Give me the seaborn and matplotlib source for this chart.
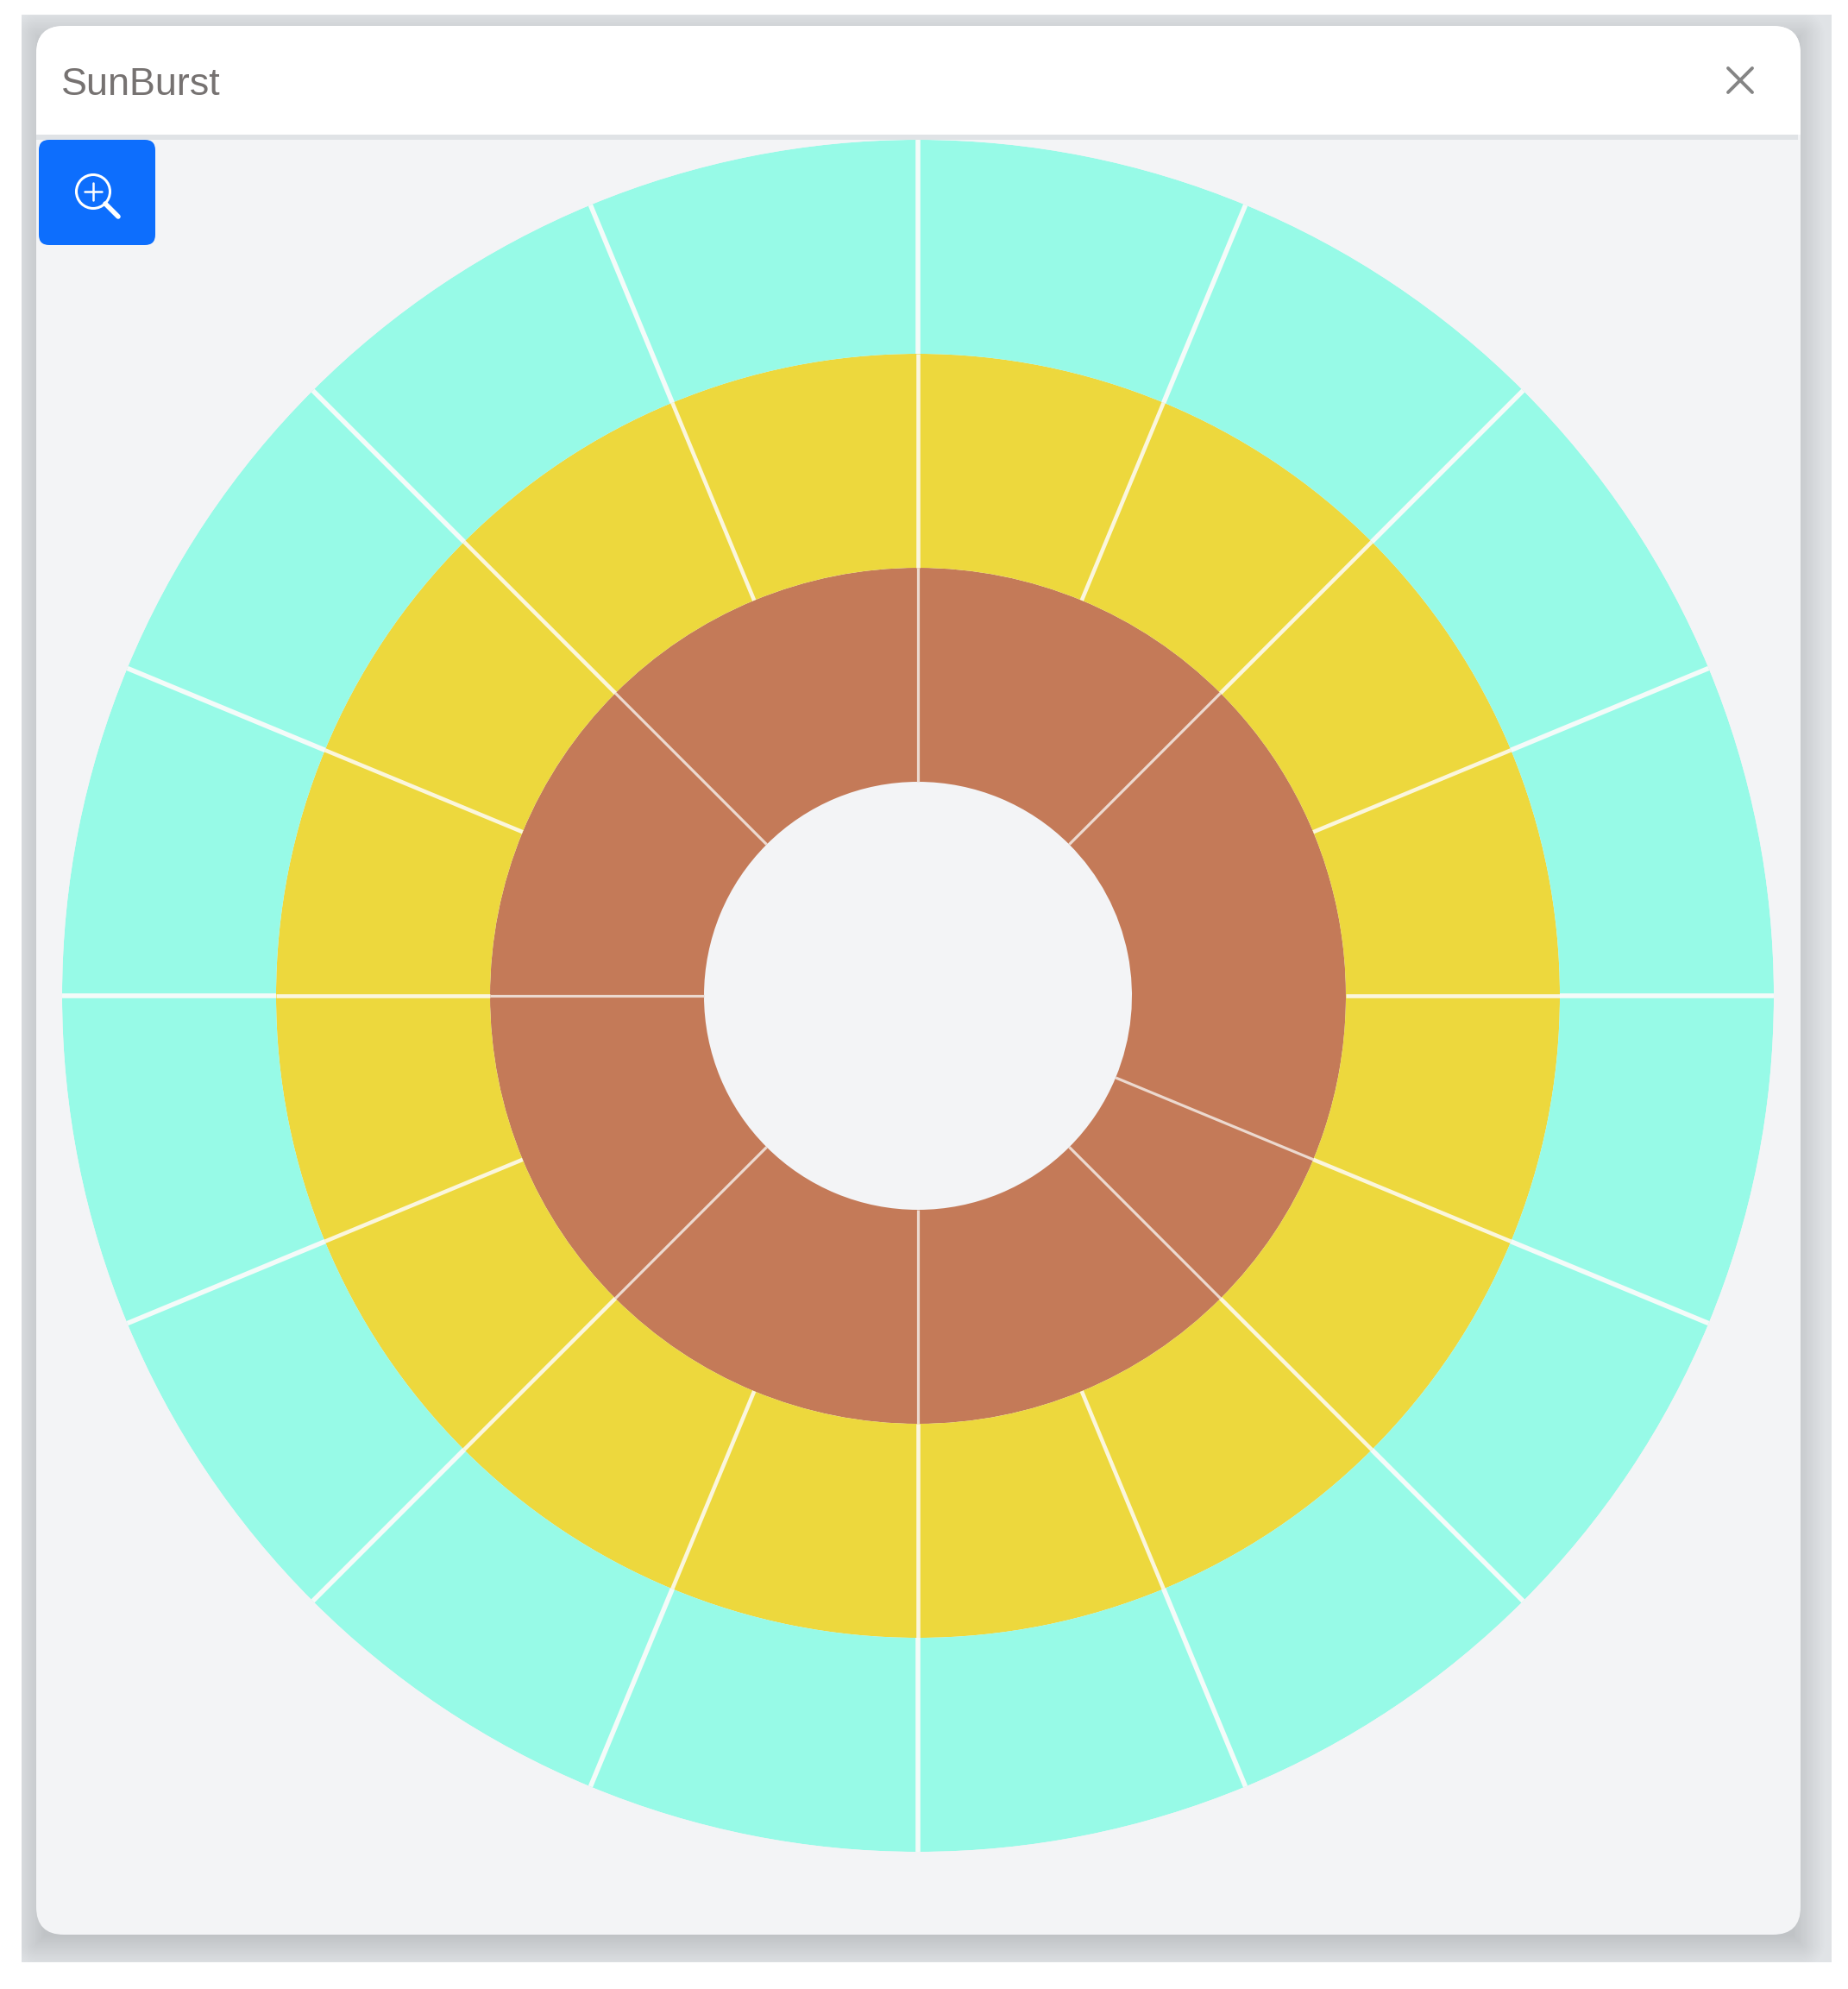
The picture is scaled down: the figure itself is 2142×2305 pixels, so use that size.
import numpy as np
import pandas as pd
import matplotlib.pyplot as plt
import seaborn as sns
from matplotlib.patches import Circle, FancyBboxPatch, Rectangle

# Sunburst data: every leaf has the same size, the rings group the leaves
leaf_count = 16
ring_depths = [1, 2, 3]
ring_colors = ["#c47a58", "#edd83d", "#97fae7"]
ring_line_colors = ["#ecd9cf", "#fbf6dc", "#f4fbf9"]
ring_line_widths = [2.3, 3.3, 4.0]
inner_groups = [2, 3, 1, 2, 2, 2, 2, 2]
middle_groups = [1] * 16
outer_groups = [1] * 16
title = "SunBurst"

W, H = 2142, 2305
CARD = (42, 30, 2087, 2242)

sns.set_theme(style="white")
plt.rcParams["font.family"] = ["Liberation Sans", "DejaVu Sans"]

fig = plt.figure(figsize=(W / 100, H / 100), dpi=100, facecolor="white")

# Window chrome in pixel coordinates
bg = fig.add_axes([0, 0, 1, 1])

# Shadow behind the card, a little lower than the card itself
sx0, sx1, sy0, sy1 = 25, 2123, 17, 2274
xx, yy = np.meshgrid(np.arange(sx0, sx1), np.arange(sy0, sy1))
dx = np.maximum(CARD[0] - xx, xx - CARD[2])
dy = np.maximum(CARD[1] + 10 - yy, yy - CARD[3] - 10)
dist = np.hypot(np.maximum(dx, 0), np.maximum(dy, 0)) + np.minimum(np.maximum(dx, dy), 0)
shade = np.clip(192 + (dist + 10) * 0.85, 192, 224) / 255
shadow = np.dstack([shade, shade + 3 / 255, shade + 6 / 255])
bg.imshow(shadow, extent=(sx0, sx1, sy1, sy0), aspect="auto", interpolation="bilinear")

bg.set_xlim(0, W)
bg.set_ylim(H, 0)
bg.axis("off")

card = FancyBboxPatch((CARD[0], CARD[1]), CARD[2] - CARD[0], CARD[3] - CARD[1],
                      boxstyle="round,pad=0,rounding_size=32", fc="#f3f4f6", ec="none")
bg.add_patch(card)
header = Rectangle((CARD[0], CARD[1]), CARD[2] - CARD[0], 126, fc="white", ec="none")
bg.add_patch(header)
header.set_clip_path(card)
bg.add_patch(Rectangle((CARD[0], 156), CARD[2] - CARD[0] - 3, 6, fc="#e0e3e6", ec="none"))

bg.text(71, 110, title, fontsize=32.3, color="#767271", ha="left", va="baseline")

# Close icon
bg.plot([2003, 2031], [79, 107], color="#858585", lw=2.8)
bg.plot([2003, 2031], [107, 79], color="#858585", lw=2.8)

# Zoom button
bg.add_patch(FancyBboxPatch((45, 162), 135, 122, boxstyle="round,pad=0,rounding_size=12",
                            fc="#0d6efd", ec="none"))
bg.add_patch(Circle((108, 222), 19.5, fc="none", ec="white", lw=2.2))
bg.plot([98, 118], [222, 222], color="white", lw=1.8)
bg.plot([108, 108], [212, 232], color="white", lw=1.8)
bg.plot([122, 137], [236, 251], color="white", lw=4)

# Sunburst on polar axes, north = start, going clockwise
cx, cy, radius = 1064, 1154, 992
ax = fig.add_axes([(cx - radius) / W, (H - cy - radius) / H, 2 * radius / W, 2 * radius / H],
                  projection="polar")
ax.patch.set_alpha(0)
ax.set_theta_zero_location("N")
ax.set_theta_direction(-1)

step = 2 * np.pi / leaf_count
rings = [inner_groups, middle_groups, outer_groups]

for depth, groups, color, line_color, lw in zip(ring_depths, rings, ring_colors,
                                                ring_line_colors, ring_line_widths):
    edges = np.cumsum([0] + groups) * step
    spans = np.diff(edges)
    # one seaborn bar per group, so a wedge has no seam inside it
    for start, span in zip(edges[:-1], spans):
        df = pd.DataFrame({"theta": [start + span / 2], "height": [1.0]})
        sns.barplot(data=df, x="theta", y="height", native_scale=True, errorbar=None,
                    width=span, color=color, saturation=1, bottom=depth, ax=ax, linewidth=0)
    # separators between groups
    ax.vlines(edges[:-1], depth, depth + 1, colors=line_color, lw=lw, zorder=5)

ax.set_xlim(0, 2 * np.pi)
ax.set_ylim(0, 4)
ax.axis("off")

fig.savefig("out.png", dpi=100)
plt.close(fig)
